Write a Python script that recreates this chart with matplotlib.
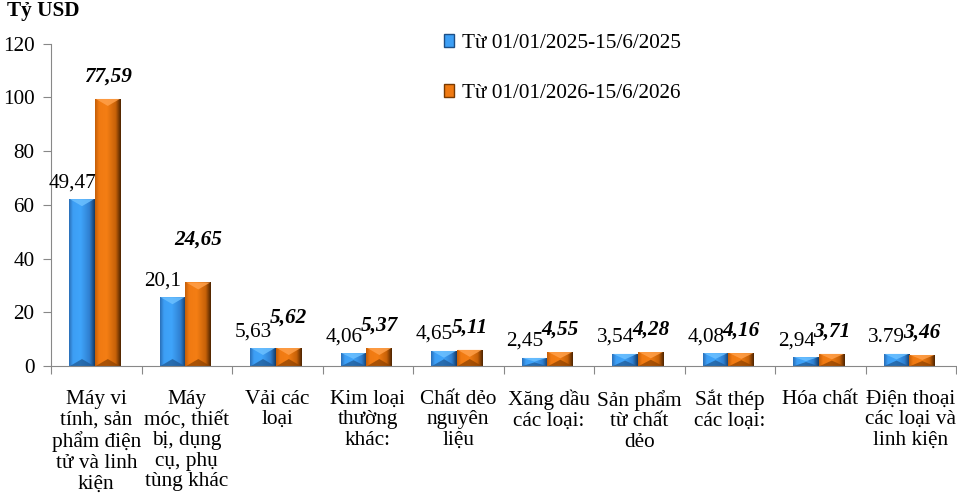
import matplotlib
matplotlib.use('Agg')
import matplotlib.pyplot as plt
import numpy as np
from matplotlib.patches import Patch, Polygon
from matplotlib.colors import to_rgb

# --- data ---
categories = [
    "Máy vi\ntính, sản\nphẩm điện\ntử và linh\nkiện",
    "Máy\nmóc, thiết\nbị, dụng\ncụ, phụ\ntùng khác",
    "Vải các\nloại",
    "Kim loại\nthường\nkhác:",
    "Chất dẻo\nnguyên\nliệu",
    "Xăng dầu\ncác loại:",
    "Sản phẩm\ntừ chất\ndẻo",
    "Sắt thép\ncác loại:",
    "Hóa chất",
    "Điện thoại\ncác loại và\nlinh kiện",
]
# bar heights as drawn (the chart's bars do not match its printed labels)
heights_2025 = [62.1, 25.6, 6.7, 4.8, 5.6, 3.0, 4.5, 4.8, 3.3, 4.5]
heights_2026 = [99.4, 31.1, 6.7, 6.7, 6.0, 5.2, 5.2, 4.8, 4.5, 4.1]
labels_2025 = ["49,47", "20,1", "5,63", "4,06", "4,65", "2,45", "3,54", "4,08", "2,94", "3.79"]
labels_2026 = ["77,59", "24,65", "5,62", "5,37", "5,11", "4,55", "4,28", "4,16", "3,71", "3,46"]
series_names = ["Từ 01/01/2025-15/6/2025", "Từ 01/01/2026-15/6/2026"]
y_ticks = [0, 20, 40, 60, 80, 100, 120]

plt.rcParams['font.family'] = ['Liberation Serif', 'DejaVu Serif']
FS = 15.3

W, H = 957, 503
fig = plt.figure(figsize=(W / 100, H / 100), dpi=100)
ax = fig.add_axes([51 / W, (H - 366) / H, 905 / W, 322.4 / H])

x = np.arange(len(categories))
bw = 0.285
shift = -0.015

blue = dict(grad=["#2a6fb8", "#3d9ff5", "#3fa4fa", "#2f7fd0", "#163c66"],
            top="#6cc0ff", bottom="#1f5690", edge="#1d4f86")
orange = dict(grad=["#c45e08", "#f07a12", "#f47e14", "#c86208", "#4e2400"],
              top="#ffa04a", bottom="#8a4000", edge="#7a3a00")
stops = [0.0, 0.15, 0.45, 0.8, 1.0]


def gradient_img(cols, n=64):
    rgb = np.array([to_rgb(c) for c in cols])
    t = np.linspace(0, 1, n)
    img = np.stack([np.interp(t, stops, rgb[:, k]) for k in range(3)], axis=-1)
    return img[np.newaxis, :, :]


px_to_y = 120 / 322.4


def draw_bars(xpos, vals, style):
    bars = ax.bar(xpos, vals, width=bw, color=style["grad"][1],
                  edgecolor='none', zorder=2)
    img = gradient_img(style["grad"])
    for b in bars:
        x0, w, h = b.get_x(), b.get_width(), b.get_height()
        im = ax.imshow(img, extent=[x0, x0 + w, 0, h], aspect='auto',
                       interpolation='bilinear', zorder=2.1)
        im.set_clip_path(b)
        d = min(7 * px_to_y, h * 0.45)
        ax.add_patch(Polygon([(x0 + 0.01, h), (x0 + w - 0.01, h), (x0 + w / 2, h - d)],
                             closed=True, color=style["top"], alpha=0.85, zorder=2.2, lw=0))
        ax.add_patch(Polygon([(x0 + 0.01, 0), (x0 + w - 0.01, 0), (x0 + w / 2, d)],
                             closed=True, color=style["bottom"], alpha=0.7, zorder=2.2, lw=0))
    return bars


bars_a = draw_bars(x + shift - bw / 2, heights_2025, blue)
bars_b = draw_bars(x + shift + bw / 2, heights_2026, orange)

# value labels
for b, lab in zip(bars_a, labels_2025):
    ax.annotate(lab, (b.get_x() + b.get_width() / 2, b.get_height()),
                xytext=(-7, 5), textcoords='offset points', ha='center', va='bottom',
                fontsize=FS, zorder=5)
extra = {1: 15, 2: 6}
for i, (b, lab) in enumerate(zip(bars_b, labels_2026)):
    ax.annotate(lab, (b.get_x() + b.get_width() / 2, b.get_height()),
                xytext=(0, 9 + extra.get(i, 0)), textcoords='offset points',
                ha='center', va='bottom', fontsize=FS, fontweight='bold',
                fontstyle='italic', zorder=5)

ax.set_xlim(-0.5, len(categories) - 0.5)
ax.set_ylim(0, 120)
ax.set_yticks(y_ticks)
ax.set_yticklabels([str(v) for v in y_ticks], fontsize=FS)
ax.set_xticks(np.arange(len(categories) + 1) - 0.5)
ax.set_xticklabels([])
ax.set_xticks(x, minor=True)
ax.set_xticklabels(categories, minor=True, fontsize=FS, linespacing=1.12)
ax.tick_params(axis='x', which='minor', length=0, pad=17)
ax.tick_params(axis='x', which='major', length=6, color='#888888', direction='out')
ax.tick_params(axis='y', length=6, color='#888888', direction='out', pad=6)

for s in ['top', 'right']:
    ax.spines[s].set_visible(False)
ax.spines['left'].set_color('#888888')
ax.spines['bottom'].set_color('#888888')

handles = [Patch(facecolor="#3d9ff5", edgecolor=blue["edge"]),
           Patch(facecolor="#f07a12", edgecolor=orange["edge"])]
fig.legend(handles, series_names, loc='upper left', bbox_to_anchor=(444 / W, 1 - 34 / H),
           frameon=False, fontsize=FS, handlelength=0.45, handleheight=0.55,
           handletextpad=0.4, labelspacing=1.45, borderaxespad=0, borderpad=0)

fig.text(7 / W, 1 - 1 / H, "Tỷ USD", fontsize=FS, fontweight='bold', va='top', ha='left')

fig.savefig('out.png', dpi=100)
